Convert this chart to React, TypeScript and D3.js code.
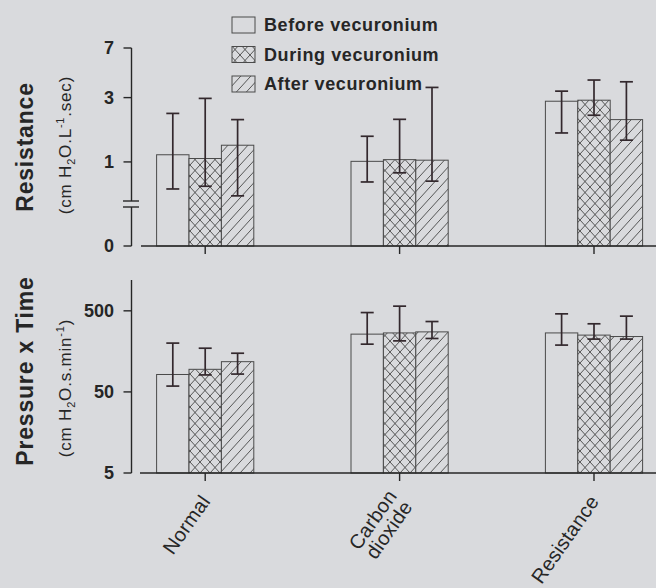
import React from "react";
import * as d3 from "d3";

const categories = ["Normal", "Carbon dioxide", "Resistance"];
const categoryLines = [["Normal"], ["Carbon", "dioxide"], ["Resistance"]];
const series = ["Before vecuronium", "During vecuronium", "After vecuronium"];
const seriesFill = ["none", "url(#cross)", "url(#hatch)"];

// Resistance (cm H2O.L-1.sec), per series, per category
const resMean = [
  [1.13, 1.01, 2.82],
  [1.06, 1.04, 2.87],
  [1.33, 1.03, 2.06],
];
const resLo = [
  [0.63, 0.71, 1.64],
  [0.66, 0.83, 2.22],
  [0.56, 0.72, 1.45],
];
const resHi = [
  [2.29, 1.55, 3.35],
  [2.96, 2.07, 4.05],
  [2.06, 3.57, 3.93],
];

// Pressure x Time (cm H2O.s.min-1)
const ptpMean = [
  [82, 258, 267],
  [95, 267, 251],
  [118, 275, 241],
];
const ptpLo = [
  [59, 194, 189],
  [81, 213, 224],
  [83, 228, 224],
];
const ptpHi = [
  [200, 476, 459],
  [173, 571, 346],
  [150, 369, 430],
];

const resTicks = [7, 3, 1];
const ptpTicks = [500, 50, 5];

const W = 656;
const H = 588;
const BG = "#d9dadd";
const INK = "#262626";
const BAR = "#4a4a4a";
const ERR = "#33282d";
const FONT = "'Liberation Sans', Arial, Helvetica, sans-serif";

export default function App() {
  const axisX = 131.5;
  const zeroY = 246;
  const botY = 473;

  const x = d3
    .scaleBand<string>()
    .domain(categories)
    .range([108, 691.2])
    .paddingInner(0.5)
    .paddingOuter(0.25);
  const xs = d3.scaleBand<string>().domain(series).range([0, x.bandwidth()]).padding(0);

  const yRes = d3.scaleLog().domain([0.5, 7]).range([202.5, 48]);
  const yPtp = d3.scaleLog().domain([5, 1200]).range([botY, 280]);

  const errW = 13;

  const renderPanel = (
    mean: number[][],
    lo: number[][],
    hi: number[][],
    y: d3.ScaleLogarithmic<number, number>,
    base: number,
    key: string
  ) => (
    <g key={key}>
      {series.map((s, si) =>
        categories.map((c, ci) => {
          const bx = (x(c) as number) + (xs(s) as number);
          const by = y(mean[si][ci]);
          return (
            <g key={`${key}-${s}-${c}`}>
              <rect x={bx} y={by} width={xs.bandwidth()} height={base - by} fill={BG} />
              {si > 0 && (
                <rect x={bx} y={by} width={xs.bandwidth()} height={base - by} fill={seriesFill[si]} />
              )}
              <rect
                x={bx}
                y={by}
                width={xs.bandwidth()}
                height={base - by}
                fill="none"
                stroke={BAR}
                strokeWidth={1}
              />
            </g>
          );
        })
      )}
      {series.map((s, si) =>
        categories.map((c, ci) => {
          const cx = (x(c) as number) + (xs(s) as number) + xs.bandwidth() / 2;
          const yl = y(lo[si][ci]);
          const yh = y(hi[si][ci]);
          return (
            <g key={`${key}-e-${s}-${c}`} stroke={ERR} strokeWidth={1.7}>
              <line x1={cx} x2={cx} y1={yl} y2={yh} />
              <line x1={cx - errW / 2} x2={cx + errW / 2} y1={yh} y2={yh} />
              <line x1={cx - errW / 2} x2={cx + errW / 2} y1={yl} y2={yl} />
            </g>
          );
        })
      )}
    </g>
  );

  const tickLabelStyle = {
    fontFamily: FONT,
    fontSize: 18,
    fontWeight: "bold" as const,
    fill: INK,
  };

  const catLabel = (c: string, ci: number, axisY: number) => {
    const cx = (x(c) as number) + x.bandwidth() / 2;
    const lines = categoryLines[ci];
    const lh = 19;
    return (
      <text
        key={`cl-${c}`}
        transform={`translate(${cx + 1},${axisY + 25}) rotate(-55)`}
        textAnchor="end"
        style={{ fontFamily: FONT, fontSize: 20, fill: INK, letterSpacing: 0.3 }}
      >
        {lines.map((l, li) => (
          <tspan key={l} x={0} dy={li === 0 ? -((lines.length - 1) / 2) * lh + 6 : lh}>
            {l}
          </tspan>
        ))}
      </text>
    );
  };

  const legendRows = [25, 54.5, 84];

  return (
    <svg
      width={W}
      height={H}
      style={{ position: "absolute", left: 0, top: 0, display: "block", background: BG }}
    >
      <defs>
        <pattern id="cross" width={10} height={11} patternUnits="userSpaceOnUse">
          <path d="M0,0 L10,11 M10,0 L0,11" stroke="#454545" strokeWidth={0.9} fill="none" />
        </pattern>
        <pattern id="hatch" width={10} height={11} patternUnits="userSpaceOnUse">
          <path
            d="M0,11 L10,0 M-1,1.1 L1,-1.1 M9,12.1 L11,9.9"
            stroke="#454545"
            strokeWidth={0.9}
            fill="none"
          />
        </pattern>
      </defs>
      <rect x={0} y={0} width={W} height={H} fill={BG} />

      {/* Top panel: Resistance */}
      {renderPanel(resMean, resLo, resHi, yRes, zeroY, "res")}
      <g stroke={INK} strokeWidth={1.4} fill="none">
        <line x1={axisX} x2={axisX} y1={yRes(7)} y2={201} />
        <line x1={axisX} x2={axisX} y1={207} y2={zeroY} />
        <line x1={123} x2={139} y1={201} y2={201} />
        <line x1={123} x2={139} y1={207} y2={207} />
        {resTicks.map((t) => (
          <line key={`rt${t}`} x1={axisX - 8} x2={axisX} y1={yRes(t)} y2={yRes(t)} />
        ))}
        <line x1={axisX - 8} x2={axisX} y1={zeroY} y2={zeroY} />
        <line x1={141} x2={W} y1={zeroY} y2={zeroY} />
        {categories.map((c) => {
          const cx = (x(c) as number) + x.bandwidth() / 2;
          return <line key={`xt1${c}`} x1={cx} x2={cx} y1={zeroY} y2={zeroY + 8} />;
        })}
      </g>
      {resTicks.map((t) => (
        <text key={`rl${t}`} x={114} y={yRes(t)} dy="0.36em" textAnchor="end" style={tickLabelStyle}>
          {t}
        </text>
      ))}
      <text x={114} y={zeroY} dy="0.36em" textAnchor="end" style={tickLabelStyle}>
        0
      </text>

      {/* Bottom panel: Pressure x Time */}
      {renderPanel(ptpMean, ptpLo, ptpHi, yPtp, botY, "ptp")}
      <g stroke={INK} strokeWidth={1.4} fill="none">
        <line x1={axisX} x2={axisX} y1={yPtp(1200)} y2={botY} />
        {ptpTicks.map((t) => (
          <line key={`pt${t}`} x1={axisX - 8} x2={axisX} y1={yPtp(t)} y2={yPtp(t)} />
        ))}
        <line x1={140} x2={W} y1={botY} y2={botY} />
        {categories.map((c) => {
          const cx = (x(c) as number) + x.bandwidth() / 2;
          return <line key={`xt2${c}`} x1={cx} x2={cx} y1={botY} y2={botY + 8} />;
        })}
      </g>
      {ptpTicks.map((t) => (
        <text key={`pl${t}`} x={114} y={yPtp(t)} dy="0.36em" textAnchor="end" style={tickLabelStyle}>
          {t}
        </text>
      ))}

      {categories.map((c, ci) => catLabel(c, ci, botY))}

      {/* Y titles */}
      <text
        transform="translate(33,147) rotate(-90)"
        textAnchor="middle"
        style={{ fontFamily: FONT, fontSize: 23, fontWeight: "bold", fill: INK, letterSpacing: 0.8 }}
      >
        Resistance
      </text>
      <text
        transform="translate(71,145) rotate(-90)"
        textAnchor="middle"
        style={{ fontFamily: FONT, fontSize: 17, fill: INK, letterSpacing: 0.8 }}
      >
        (cm H<tspan fontSize={11} dy={4}>2</tspan>
        <tspan dy={-4}>O.L</tspan>
        <tspan fontSize={11} dy={-7}>-1</tspan>
        <tspan dy={7}>.sec)</tspan>
      </text>
      <text
        transform="translate(33,371) rotate(-90)"
        textAnchor="middle"
        style={{ fontFamily: FONT, fontSize: 23, fontWeight: "bold", fill: INK, letterSpacing: 0.8 }}
      >
        Pressure x Time
      </text>
      <text
        transform="translate(71,388) rotate(-90)"
        textAnchor="middle"
        style={{ fontFamily: FONT, fontSize: 17, fill: INK, letterSpacing: 0.8 }}
      >
        (cm H<tspan fontSize={11} dy={4}>2</tspan>
        <tspan dy={-4}>O.s.min</tspan>
        <tspan fontSize={11} dy={-7}>-1</tspan>
        <tspan dy={7}>)</tspan>
      </text>

      {/* Legend */}
      {series.map((s, si) => (
        <g key={`lg-${s}`}>
          <rect x={232} y={legendRows[si] - 8} width={23} height={16} fill={BG} />
          {si > 0 && <rect x={232} y={legendRows[si] - 8} width={23} height={16} fill={seriesFill[si]} />}
          <rect
            x={232}
            y={legendRows[si] - 8}
            width={23}
            height={16}
            fill="none"
            stroke={BAR}
            strokeWidth={1}
          />
          <text
            x={264}
            y={legendRows[si]}
            dy="0.36em"
            style={{ fontFamily: FONT, fontSize: 18, fontWeight: "bold", fill: INK, letterSpacing: 0.6 }}
          >
            {s}
          </text>
        </g>
      ))}
    </svg>
  );
}
